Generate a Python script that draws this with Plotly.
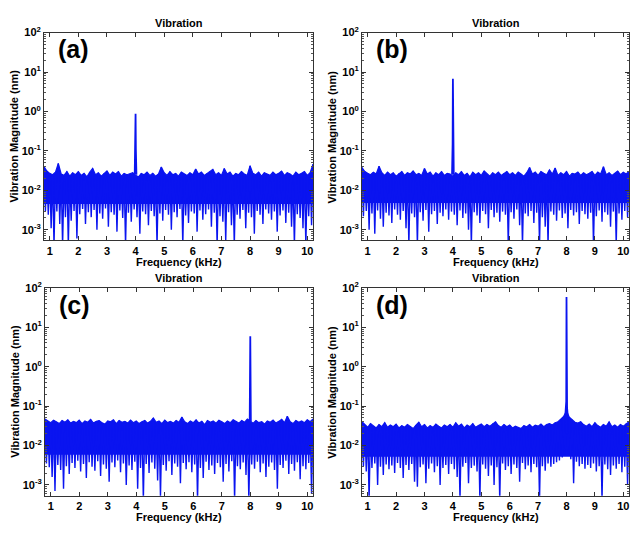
import plotly.graph_objects as go

# ---------------- data ----------------
# frequency grid (kHz): upper-envelope samples start at 0.8 step 0.1,
# lower-envelope samples sit halfway between them
f_start = 0.8
f_step = 0.1

noise_upper_a = [0.040, 0.031, 0.027, 0.025, 0.029, 0.048, 0.026, 0.024, 0.030, 0.023,
                 0.028, 0.025, 0.030, 0.024, 0.027, 0.022, 0.029, 0.036, 0.025, 0.028,
                 0.023, 0.027, 0.031, 0.024, 0.029, 0.026, 0.030, 0.023, 0.027, 0.025,
                 0.026, 0.028, 0.024, 0.022, 0.027, 0.025, 0.029, 0.024, 0.027, 0.023,
                 0.026, 0.039, 0.028, 0.024, 0.030, 0.025, 0.027, 0.023, 0.029, 0.026,
                 0.024, 0.028, 0.025, 0.035, 0.026, 0.029, 0.024, 0.027, 0.030, 0.034,
                 0.025, 0.028, 0.024, 0.036, 0.026, 0.029, 0.023, 0.027, 0.025, 0.030,
                 0.026, 0.024, 0.042, 0.027, 0.025, 0.029, 0.023, 0.028, 0.026, 0.024,
                 0.029, 0.025, 0.027, 0.031, 0.024, 0.028, 0.026, 0.023, 0.029, 0.025,
                 0.027, 0.030, 0.024, 0.028, 0.046]
noise_lower_a = [0.0030, 0.0024, 0.0011, 0.0004, 0.0029, 0.0014, 0.0004, 0.0021, 0.0004, 0.0017,
                 0.0030, 0.0006, 0.0025, 0.0034, 0.0014, 0.0028, 0.0021, 0.0032, 0.0010, 0.0026,
                 0.0019, 0.0035, 0.0012, 0.0028, 0.0024, 0.0009, 0.0031, 0.0020, 0.0004, 0.0027,
                 0.0016, 0.0033, 0.0021, 0.0008, 0.0029, 0.0025, 0.0013, 0.0030, 0.0022, 0.0004,
                 0.0026, 0.0017, 0.0032, 0.0024, 0.0010, 0.0028, 0.0021, 0.0034, 0.0004, 0.0023,
                 0.0015, 0.0029, 0.0026, 0.0009, 0.0031, 0.0018, 0.0025, 0.0033, 0.0012, 0.0027,
                 0.0004, 0.0022, 0.0016, 0.0005, 0.0028, 0.0013, 0.0004, 0.0024, 0.0019, 0.0032,
                 0.0011, 0.0027, 0.0021, 0.0008, 0.0030, 0.0024, 0.0014, 0.0033, 0.0026, 0.0018,
                 0.0029, 0.0009, 0.0023, 0.0031, 0.0015, 0.0027, 0.0012, 0.0004, 0.0025, 0.0020,
                 0.0011, 0.0004, 0.0022, 0.0013]
band_floor_a = 0.0045
peak_f_a = [3.97, 3.99, 4.00, 4.01, 4.03]
peak_v_a = [0.025, 0.12, 0.88, 0.11, 0.025]

noise_upper_b = [0.038, 0.030, 0.027, 0.025, 0.029, 0.026, 0.041, 0.028, 0.024, 0.029,
                 0.025, 0.028, 0.023, 0.027, 0.030, 0.024, 0.028, 0.026, 0.031, 0.025,
                 0.027, 0.024, 0.036, 0.026, 0.029, 0.023, 0.028, 0.025, 0.030, 0.024,
                 0.027, 0.026, 0.023, 0.028, 0.025, 0.030, 0.024, 0.027, 0.022, 0.029,
                 0.025, 0.028, 0.024, 0.031, 0.026, 0.023, 0.028, 0.025, 0.029, 0.024,
                 0.027, 0.030, 0.025, 0.028, 0.024, 0.029, 0.026, 0.023, 0.028, 0.038,
                 0.026, 0.029, 0.024, 0.030, 0.027, 0.025, 0.033, 0.026, 0.037, 0.024,
                 0.028, 0.025, 0.030, 0.023, 0.027, 0.026, 0.029, 0.024, 0.028, 0.025,
                 0.027, 0.030, 0.024, 0.029, 0.026, 0.040, 0.025, 0.028, 0.024, 0.027,
                 0.031, 0.025, 0.029, 0.026, 0.030]
noise_lower_b = [0.0022, 0.0030, 0.0010, 0.0026, 0.0008, 0.0031, 0.0019, 0.0012, 0.0027, 0.0023,
                 0.0015, 0.0033, 0.0024, 0.0018, 0.0030, 0.0011, 0.0004, 0.0026, 0.0021, 0.0004,
                 0.0028, 0.0017, 0.0032, 0.0009, 0.0025, 0.0030, 0.0014, 0.0027, 0.0022, 0.0033,
                 0.0018, 0.0029, 0.0024, 0.0013, 0.0031, 0.0020, 0.0026, 0.0010, 0.0004, 0.0028,
                 0.0023, 0.0015, 0.0030, 0.0025, 0.0011, 0.0032, 0.0021, 0.0027, 0.0016, 0.0029,
                 0.0024, 0.0004, 0.0028, 0.0019, 0.0033, 0.0013, 0.0004, 0.0026, 0.0022, 0.0030,
                 0.0015, 0.0027, 0.0004, 0.0021, 0.0012, 0.0004, 0.0029, 0.0024, 0.0017, 0.0031,
                 0.0020, 0.0026, 0.0011, 0.0032, 0.0023, 0.0028, 0.0014, 0.0030, 0.0025, 0.0019,
                 0.0027, 0.0004, 0.0022, 0.0031, 0.0016, 0.0028, 0.0024, 0.0012, 0.0029, 0.0004,
                 0.0026, 0.0018, 0.0030, 0.0021]
band_floor_b = 0.0048
peak_f_b = [3.97, 3.99, 4.00, 4.01, 4.03]
peak_v_b = [0.025, 0.15, 6.8, 0.14, 0.025]

noise_upper_c = [0.047, 0.042, 0.038, 0.044, 0.040, 0.036, 0.043, 0.039, 0.045, 0.037,
                 0.041, 0.038, 0.044, 0.036, 0.042, 0.039, 0.046, 0.037, 0.041, 0.043,
                 0.038, 0.035, 0.042, 0.040, 0.045, 0.036, 0.043, 0.039, 0.041, 0.037,
                 0.044, 0.038, 0.042, 0.036, 0.040, 0.043, 0.037, 0.041, 0.050, 0.039,
                 0.042, 0.036, 0.044, 0.038, 0.041, 0.037, 0.043, 0.039, 0.053, 0.040,
                 0.036, 0.042, 0.038, 0.045, 0.037, 0.041, 0.034, 0.043, 0.039, 0.042,
                 0.037, 0.044, 0.040, 0.036, 0.042, 0.038, 0.045, 0.041, 0.037, 0.043,
                 0.039, 0.047, 0.041, 0.037, 0.043, 0.038, 0.040, 0.035, 0.042, 0.039,
                 0.044, 0.037, 0.041, 0.046, 0.038, 0.055, 0.040, 0.036, 0.043, 0.039,
                 0.042, 0.038, 0.045, 0.040, 0.047]
noise_lower_c = [0.0035, 0.0028, 0.0016, 0.0007, 0.0032, 0.0024, 0.0008, 0.0030, 0.0019, 0.0036,
                 0.0027, 0.0041, 0.0022, 0.0034, 0.0015, 0.0038, 0.0029, 0.0023, 0.0040, 0.0017,
                 0.0033, 0.0026, 0.0012, 0.0037, 0.0028, 0.0042, 0.0021, 0.0035, 0.0010, 0.0031,
                 0.0024, 0.0039, 0.0008, 0.0027, 0.0004, 0.0034, 0.0020, 0.0037, 0.0026, 0.0013,
                 0.0005, 0.0032, 0.0023, 0.0040, 0.0018, 0.0035, 0.0029, 0.0011, 0.0036, 0.0025,
                 0.0038, 0.0021, 0.0033, 0.0004, 0.0027, 0.0015, 0.0039, 0.0024, 0.0031, 0.0019,
                 0.0036, 0.0028, 0.0012, 0.0034, 0.0022, 0.0040, 0.0004, 0.0030, 0.0025, 0.0037,
                 0.0018, 0.0004, 0.0033, 0.0026, 0.0039, 0.0021, 0.0035, 0.0016, 0.0029, 0.0037,
                 0.0024, 0.0008, 0.0032, 0.0027, 0.0041, 0.0019, 0.0034, 0.0023, 0.0038, 0.0014,
                 0.0030, 0.0025, 0.0036, 0.0006]
band_floor_c = 0.0058
peak_f_c = [7.98, 8.00, 8.02]
peak_v_c = [0.04, 5.9, 0.04]

noise_upper_d = [0.040, 0.033, 0.029, 0.036, 0.031, 0.028, 0.034, 0.030, 0.038, 0.029,
                 0.033, 0.030, 0.035, 0.028, 0.032, 0.029, 0.034, 0.031, 0.027, 0.033,
                 0.039, 0.030, 0.034, 0.028, 0.032, 0.029, 0.035, 0.031, 0.028, 0.033,
                 0.030, 0.034, 0.029, 0.038, 0.031, 0.035, 0.028, 0.033, 0.030, 0.036,
                 0.029, 0.032, 0.035, 0.030, 0.034, 0.031, 0.036, 0.040, 0.032, 0.029,
                 0.034, 0.030, 0.033, 0.028, 0.031, 0.029, 0.027, 0.032, 0.030, 0.034,
                 0.029, 0.033, 0.031, 0.035, 0.030, 0.034, 0.036, 0.033, 0.038, 0.040,
                 0.046, 0.055, 0.075, 0.052, 0.045, 0.039, 0.037, 0.040, 0.034, 0.031,
                 0.035, 0.030, 0.038, 0.032, 0.029, 0.034, 0.031, 0.040, 0.030, 0.033,
                 0.029, 0.034, 0.031, 0.036, 0.040]
noise_lower_d = [0.0030, 0.0022, 0.0004, 0.0027, 0.0035, 0.0010, 0.0029, 0.0018, 0.0033, 0.0025,
                 0.0031, 0.0020, 0.0036, 0.0027, 0.0015, 0.0032, 0.0024, 0.0034, 0.0012, 0.0009,
                 0.0028, 0.0033, 0.0011, 0.0026, 0.0035, 0.0021, 0.0030, 0.0010, 0.0027, 0.0032,
                 0.0019, 0.0034, 0.0025, 0.0016, 0.0004, 0.0029, 0.0036, 0.0011, 0.0027, 0.0031,
                 0.0022, 0.0004, 0.0033, 0.0026, 0.0017, 0.0031, 0.0010, 0.0028, 0.0004, 0.0035,
                 0.0024, 0.0030, 0.0019, 0.0033, 0.0027, 0.0012, 0.0036, 0.0025, 0.0031, 0.0021,
                 0.0034, 0.0028, 0.0004, 0.0030, 0.0023, 0.0035, 0.0029, 0.0034, 0.0038, 0.0042,
                 0.0050, 0.0060, 0.0058, 0.0045, 0.0011, 0.0039, 0.0030, 0.0034, 0.0026, 0.0032,
                 0.0027, 0.0035, 0.0022, 0.0030, 0.0004, 0.0033, 0.0025, 0.0018, 0.0031, 0.0026,
                 0.0034, 0.0021, 0.0029, 0.0010]
band_floor_d = 0.0052
peak_f_d = [7.96, 7.98, 7.99, 8.00, 8.01, 8.02, 8.04]
peak_v_d = [0.06, 0.10, 0.13, 58.0, 0.12, 0.09, 0.06]

panel_labels = ["(a)", "(b)", "(c)", "(d)"]
x_tick_vals = [1, 2, 3, 4, 5, 6, 7, 8, 9, 10]
y_tick_vals = [1e-3, 1e-2, 1e-1, 1e0, 1e1, 1e2]
y_tick_text = ["10<sup>-3</sup>", "10<sup>-2</sup>", "10<sup>-1</sup>",
               "10<sup>0</sup>", "10<sup>1</sup>", "10<sup>2</sup>"]
title_text = "Vibration"
x_title = "Frequency (kHz)"
y_title = "Vibration Magnitude (nm)"

# ---------------- figure ----------------
W, H = 639, 537
FONT = "Liberation Sans, Arial, sans-serif"
BLUE = "#0a14f0"

panels = [
    (noise_upper_a, noise_lower_a, band_floor_a, peak_f_a, peak_v_a),
    (noise_upper_b, noise_lower_b, band_floor_b, peak_f_b, peak_v_b),
    (noise_upper_c, noise_lower_c, band_floor_c, peak_f_c, peak_v_c),
    (noise_upper_d, noise_lower_d, band_floor_d, peak_f_d, peak_v_d),
]

# plot-area pixel boxes (left, right, top, bottom)
boxes = [(44, 313, 25, 236), (362, 629, 25, 236),
         (45, 313, 284, 495), (362, 629, 284, 495)]

fig = go.Figure()
minor_vals = [m * 10 ** e for e in range(-4, 2) for m in range(2, 10)]

for k, (up, lo, floor, pf, pv) in enumerate(panels):
    xa = "x" if k == 0 else f"x{k+1}"
    ya = "y" if k == 0 else f"y{k+1}"
    xu = [f_start + f_step * i for i in range(len(up))]
    # dense core of the noise band: filled from its floor level up to the upper envelope
    fig.add_trace(go.Scatter(x=[xu[0], xu[-1]], y=[floor, floor], mode="lines",
                             xaxis=xa, yaxis=ya, line=dict(color=BLUE, width=0),
                             showlegend=False, hoverinfo="skip"))
    fig.add_trace(go.Scatter(x=xu, y=up, mode="lines", xaxis=xa, yaxis=ya,
                             line=dict(color=BLUE, width=1.2), fill="tonexty",
                             fillcolor=BLUE, showlegend=False, hoverinfo="skip"))
    # spectrum trace alternating between upper and lower samples (gives the dips)
    xs, ys = [], []
    for i in range(len(up)):
        xs.append(xu[i])
        ys.append(up[i])
        if i < len(lo):
            xs.append(f_start + f_step * (i + 0.5))
            ys.append(lo[i])
    fig.add_trace(go.Scatter(x=xs, y=ys, mode="lines", xaxis=xa, yaxis=ya,
                             line=dict(color=BLUE, width=1.4), showlegend=False,
                             hoverinfo="skip"))
    # resonance peak
    fig.add_trace(go.Scatter(x=pf, y=pv, mode="lines", xaxis=xa, yaxis=ya,
                             line=dict(color=BLUE, width=1.8), showlegend=False,
                             hoverinfo="skip"))

    l, r, t, b = boxes[k]
    xdom = [l / W, r / W]
    ydom = [1 - b / H, 1 - t / H]
    sfx = "" if k == 0 else str(k + 1)
    fig.layout["xaxis" + sfx] = dict(
        domain=xdom, anchor=ya, range=[0.8, 10.2], tickvals=x_tick_vals,
        ticks="inside", ticklen=4, tickcolor="#333", showline=True, linecolor="#333",
        linewidth=1, mirror="ticks", showgrid=False, zeroline=False,
        tickfont=dict(family=FONT, size=11, color="black", weight="bold"))
    fig.layout["yaxis" + sfx] = dict(
        domain=ydom, anchor=xa, type="log", range=[-3.27, 2],
        tickvals=y_tick_vals, ticktext=y_tick_text,
        ticks="inside", ticklen=4, tickcolor="#333", showline=True, linecolor="#333",
        linewidth=1, mirror="ticks", showgrid=False, zeroline=False,
        minor=dict(tickvals=minor_vals, ticks="inside", ticklen=2, tickcolor="#555"),
        tickfont=dict(family=FONT, size=11, color="black", weight="bold"))

    cx = (l + r) / 2 / W
    fig.add_annotation(text=title_text, x=cx, y=1 - (t - 10) / H, xref="paper", yref="paper",
                       showarrow=False, xanchor="center", yanchor="middle",
                       font=dict(family=FONT, size=11, color="black", weight="bold"))
    fig.add_annotation(text=x_title, x=cx, y=1 - (b + 22) / H, xref="paper", yref="paper",
                       showarrow=False, xanchor="center", yanchor="middle",
                       font=dict(family=FONT, size=11, color="black", weight="bold"))
    fig.add_annotation(text=y_title, x=(l - 30) / W, y=1 - (t + b) / 2 / H,
                       xref="paper", yref="paper", textangle=-90,
                       showarrow=False, xanchor="center", yanchor="middle",
                       font=dict(family=FONT, size=11, color="black", weight="bold"))
    fig.add_annotation(text=panel_labels[k], x=(l + 12) / W, y=1 - (t + 17) / H,
                       xref="paper", yref="paper",
                       showarrow=False, xanchor="left", yanchor="middle",
                       font=dict(family=FONT, size=25, color="black", weight="bold"))

fig.update_layout(width=W, height=H, margin=dict(l=0, r=0, t=0, b=0),
                  paper_bgcolor="white", plot_bgcolor="white")

fig.write_html("out.html", config={"displayModeBar": False},
               post_script="document.body.style.margin='0px';")
